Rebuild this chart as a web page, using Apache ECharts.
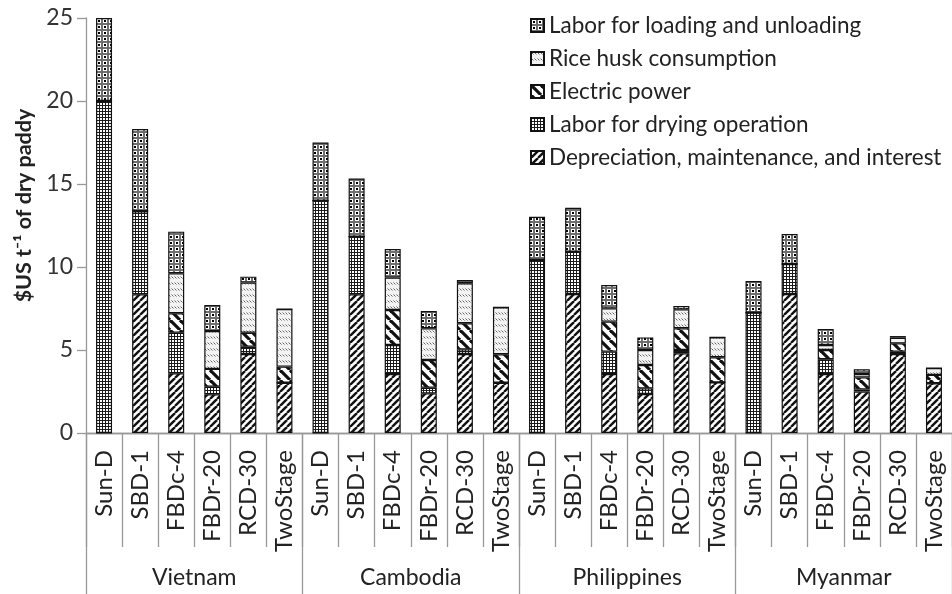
<!DOCTYPE html>
<html><head><meta charset="utf-8">
<script src="https://cdn.jsdelivr.net/npm/echarts@6/dist/echarts.min.js"></script>
<style>html,body{margin:0;padding:0;background:#fff}#c{width:952px;height:594px}</style>
</head><body><div id="c"></div>
<script>
const groups = ['Vietnam','Cambodia','Philippines','Myanmar'];
const dryers = ['Sun-D','SBD-1','FBDc-4','FBDr-20','RCD-30','TwoStage'];
const categories = [].concat(...groups.map(() => dryers));
const yTicks = [0,5,10,15,20,25];

// Vietnam | Cambodia | Philippines | Myanmar, each: Sun-D, SBD-1, FBDc-4, FBDr-20, RCD-30, TwoStage
const depreciation = [0,8.36,3.6,2.33,4.76,3.03,  0,8.36,3.55,2.39,4.76,3.03,  0,8.37,3.55,2.35,4.8,3.05,  0,8.37,3.55,2.49,4.76,3.0];
const laborDrying  = [20,5.0,2.44,0.46,0.44,0,   14,3.47,1.75,0.34,0.28,0,   10.42,2.55,1.35,0.34,0.2,0,  7.25,1.81,0.89,0.14,0.14,0];
const electric     = [0,0,1.17,1.07,0.84,0.97,    0,0,2.11,1.67,1.57,1.71,    0,0,1.81,1.41,1.31,1.51,     0,0,0.56,0.72,0.5,0.5];
const riceHusk     = [0,0,2.41,2.28,3.02,3.47,    0,0,1.95,1.91,2.41,2.83,    0,0,0.8,0.9,1.14,1.2,        0,0,0.3,0.2,0.34,0.41];
const labLoading   = [5,4.95,2.51,1.57,0.36,0,    3.5,3.5,1.72,1.04,0.2,0,    2.6,2.65,1.41,0.76,0.2,0,    1.91,1.81,0.97,0.29,0.1,0];

const names = ['Depreciation, maintenance, and interest','Labor for drying operation','Electric power','Rice husk consumption','Labor for loading and unloading'];

function pat(w,h,draw){const c=document.createElement('canvas');c.width=w;c.height=h;const g=c.getContext('2d');draw(g,w,h);return {image:c,repeat:'repeat'};}
const pDep = pat(7,7,(g,w,h)=>{g.fillStyle='#fff';g.fillRect(0,0,w,h);g.strokeStyle='#111';g.lineWidth=2.4;
  [-w,0,w].forEach(dx=>{g.beginPath();g.moveTo(dx,h);g.lineTo(dx+w,0);g.stroke();});});
const pGrid = pat(3,3,(g,w,h)=>{g.fillStyle='#fff';g.fillRect(0,0,w,h);g.fillStyle='#1a1a1a';g.fillRect(0,0,w,1);g.fillRect(0,0,1,h);});
const pElec = pat(10,10,(g,w,h)=>{g.fillStyle='#fff';g.fillRect(0,0,w,h);g.strokeStyle='#111';g.lineWidth=3.2;
  [-w,0,w].forEach(dx=>{g.beginPath();g.moveTo(dx,0);g.lineTo(dx+w,h);g.stroke();});});
const pHusk = pat(6,6,(g,w,h)=>{g.fillStyle='#f3f3f3';g.fillRect(0,0,w,h);g.strokeStyle='#666';g.lineWidth=1;
  g.beginPath();g.moveTo(0.5,0.5);g.lineTo(2.5,2.5);g.moveTo(3.5,0.5);g.lineTo(5.5,2.5);g.stroke();});
const pLoad = pat(6,6,(g,w,h)=>{g.fillStyle='#6f6f6f';g.fillRect(0,0,w,h);g.fillStyle='#fff';g.fillRect(1,1,4,4);g.fillStyle='#000';g.fillRect(2,2,2,2);});
const pats = [pDep,pGrid,pElec,pHusk,pLoad];
const dataArr = [depreciation,laborDrying,electric,riceHusk,labLoading];

const font = 'Lato';
const chart = echarts.init(document.getElementById('c'),null,{renderer:'canvas'});
chart.setOption({
  animation:false,
  textStyle:{fontFamily:font},
  grid:{left:86,top:18,right:-7,bottom:161,containLabel:false},
  legend:{orient:'vertical',left:525,top:9,itemWidth:13,itemHeight:13,itemGap:10,icon:'rect',selectedMode:false,
    data:[names[4],names[3],names[2],names[1],names[0]],
    textStyle:{fontSize:22.5,color:'#222',fontFamily:font}},
  xAxis:[
    {type:'category',data:categories,boundaryGap:true,
     axisLine:{lineStyle:{color:'#999',width:1.3}},
     axisTick:{show:true,interval:0,length:114,lineStyle:{color:'#999',width:1.3}},
     axisLabel:{interval:0,rotate:90,margin:17,fontSize:24,color:'#222',fontFamily:font}},
    {type:'category',data:groups,position:'bottom',boundaryGap:true,
     axisLine:{lineStyle:{color:'#999',width:1.3}},
     axisTick:{show:true,interval:0,length:161,lineStyle:{color:'#999',width:1.3}},
     axisLabel:{interval:0,margin:133,fontSize:23,color:'#222',fontFamily:font}}
  ],
  yAxis:{type:'value',min:yTicks[0],max:yTicks[yTicks.length-1],interval:5,
    axisLine:{show:true,lineStyle:{color:'#999',width:1.3}},
    axisTick:{show:true,length:9,lineStyle:{color:'#999',width:1.3}},
    splitLine:{show:false},
    axisLabel:{fontSize:23,color:'#333',margin:13,fontFamily:font},
    name:'$US t⁻¹ of dry paddy',nameLocation:'middle',nameGap:45,
    nameTextStyle:{fontSize:21.5,fontWeight:'bold',color:'#222',fontFamily:font,padding:[0,0,0,40]}},
  series: names.map((n,i)=>({name:n,type:'bar',stack:'s',barWidth:16,xAxisIndex:0,
    data:dataArr[i],
    itemStyle:{color:pats[i],borderColor:'#111',borderWidth:1.2}}))
});
</script></body></html>
